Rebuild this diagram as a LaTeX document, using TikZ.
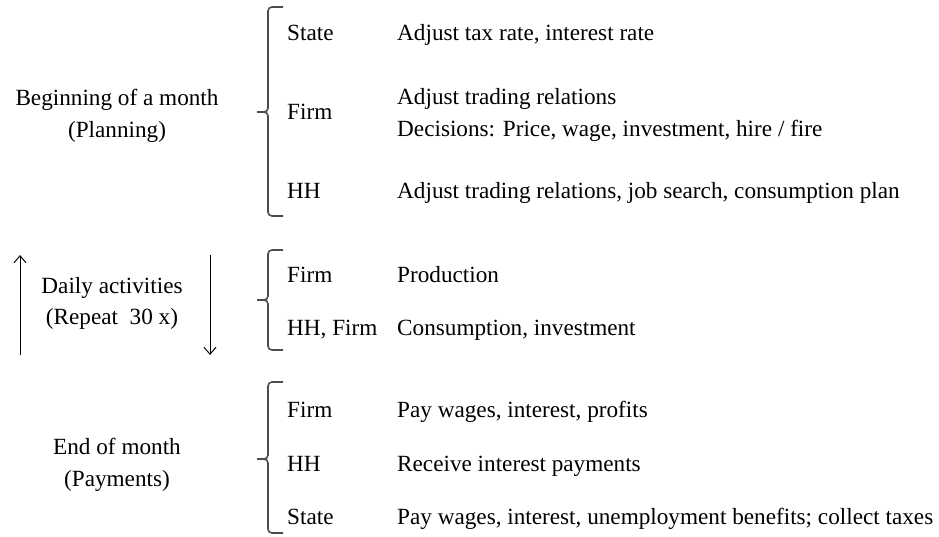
\documentclass[tikz,border=0pt]{standalone}
\usepackage{fontspec}
\setmainfont{Liberation Serif}
\usetikzlibrary{arrows.meta}
\begin{document}
\begin{tikzpicture}[x=1pt,y=-1pt,
  lbl/.style={anchor=base west,inner sep=0pt,font=\fontsize{23.2}{26}\selectfont},
  ctr/.style={anchor=base,inner sep=0pt,font=\fontsize{23.2}{26}\selectfont},
  bracket/.style={draw=black!70,line width=1.6pt},
  arr/.style={draw=black,line width=1pt,-{Straight Barb[length=7pt,width=12pt]}}]
\useasboundingbox (0,0) rectangle (939,537);
% Phase labels
\node[ctr] (b1) at (117,106) {Beginning of a month};
\node[ctr] (b2) at (117,138) {(Planning)};
\node[ctr] (d1) at (112,293) {Daily activities};
\node[ctr] (d2) at (112,324) {(Repeat\ \ 30 x)};
\node[ctr] (e1) at (117,454) {End of month};
\node[ctr] (e2) at (117,486) {(Payments)};
% Braces
\newcommand{\mybrace}[3]{% top y, middle y, bottom y
  \draw[bracket,rounded corners=4pt] (283,#1) -- (268,#1) -- (268,#2) -- (257,#2);
  \draw[bracket,rounded corners=4pt] (283,#3) -- (268,#3) -- (268,#2) -- (257,#2);
}
\coordinate (m1) at (257,112);
\coordinate (m2) at (257,300);
\coordinate (m3) at (257,459);
\mybrace{7}{112}{216}
\mybrace{250}{300}{350}
\mybrace{382}{459}{533}
% Arrows
\coordinate (ua) at (20,355); \coordinate (ub) at (20,255);
\coordinate (da) at (210,255); \coordinate (db) at (210,355);
\draw[arr] (ua) -- (ub);
\draw[arr] (da) -- (db);
% Block 1
\node[lbl] (s1) at (287,41) {State};
\node[lbl] (s1t) at (397,41) {Adjust tax rate, interest rate};
\node[lbl] (f1) at (287,120) {Firm};
\node[lbl] (f1t) at (397,105) {Adjust trading relations};
\node[lbl] (f1u) at (397,137) {Decisions: Price, wage, investment, hire / fire};
\node[lbl] (h1) at (287,199) {HH};
\node[lbl] (h1t) at (397,199) {Adjust trading relations, job search, consumption plan};
% Block 2
\node[lbl] (f2) at (287,282) {Firm};
\node[lbl] (f2t) at (397,282) {Production};
\node[lbl] (h2) at (287,335) {HH, Firm};
\node[lbl] (h2t) at (397,335) {Consumption, investment};
% Block 3
\node[lbl] (f3) at (287,417) {Firm};
\node[lbl] (f3t) at (397,417) {Pay wages, interest, profits};
\node[lbl] (h3) at (287,471) {HH};
\node[lbl] (h3t) at (397,471) {Receive interest payments};
\node[lbl] (s3) at (287,524) {State};
\node[lbl] (s3t) at (397,524) {Pay wages, interest, unemployment benefits; collect taxes};
\end{tikzpicture}
\end{document}
